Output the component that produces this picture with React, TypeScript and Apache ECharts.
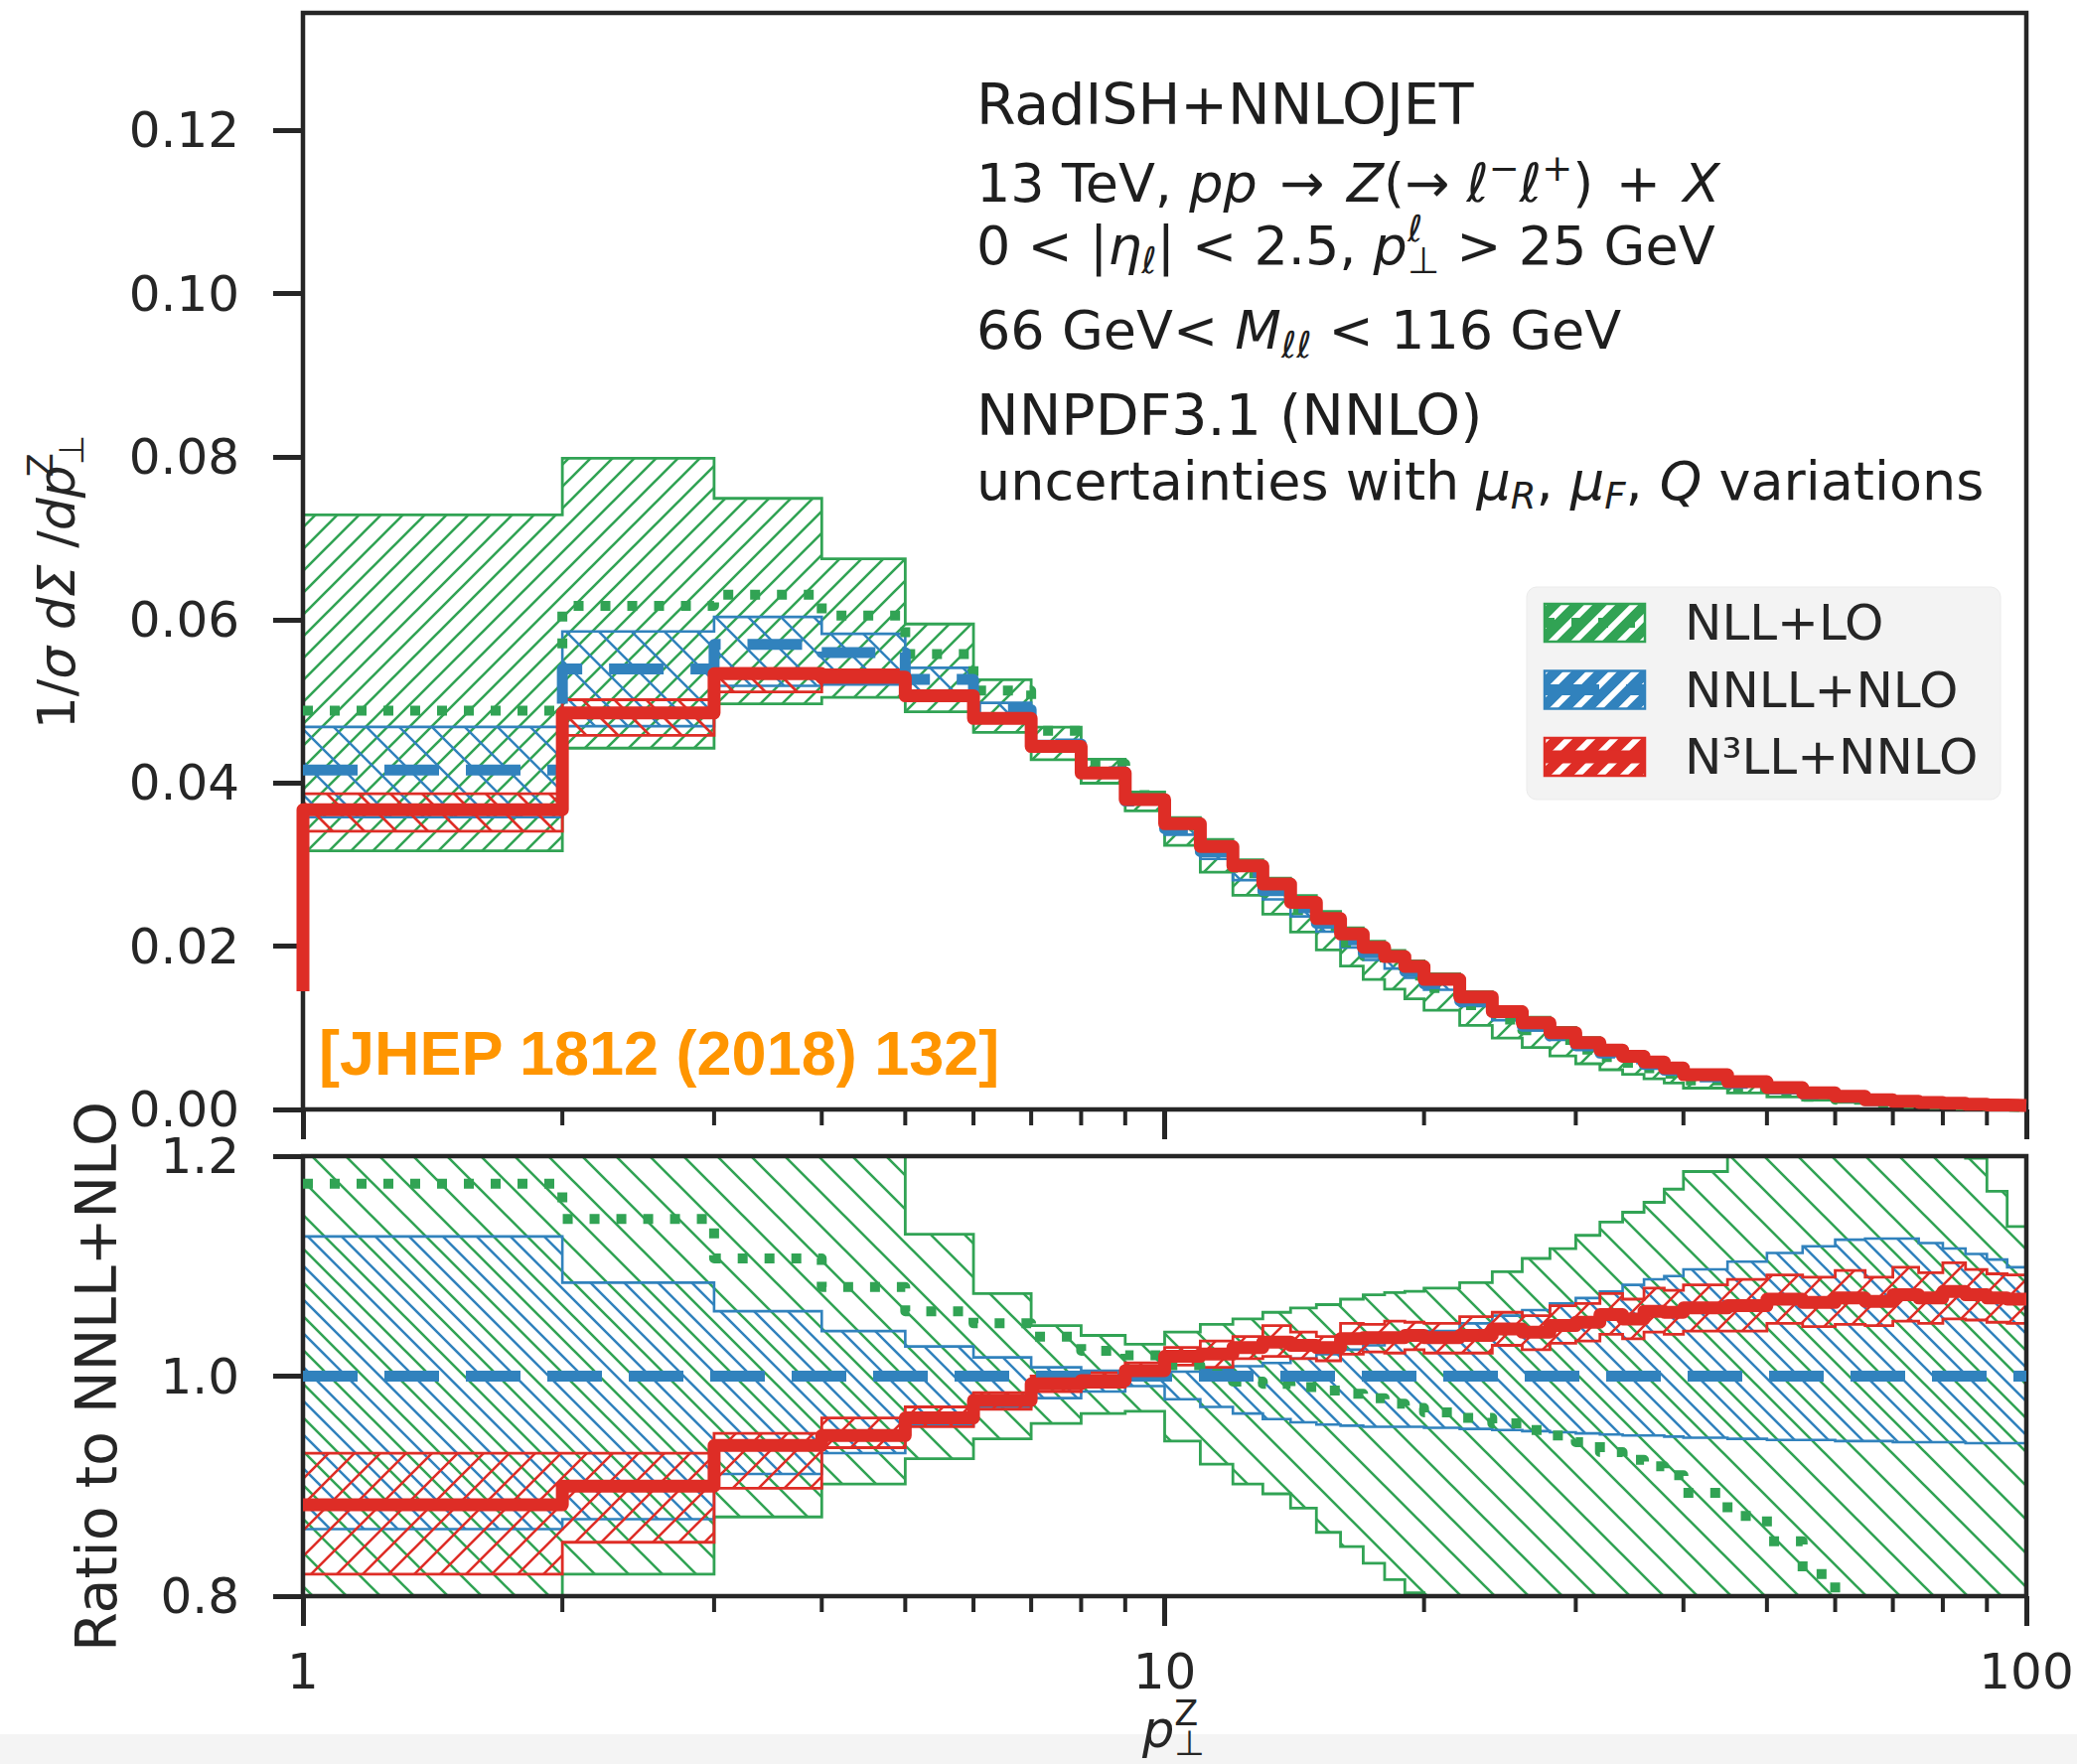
import React, { useEffect, useRef } from 'react';
import * as echarts from 'echarts';

// ---------------- data ----------------
const binEdges = [1, 2, 3, 4, 5, 6, 7, 8, 9, 10, 11, 12, 13, 14, 15, 16, 17, 18, 19, 20, 22, 24, 26, 28, 30, 32, 34, 36, 38, 40, 45, 50, 55, 60, 65, 70, 75, 80, 85, 90, 95, 100];

// NNLL+NLO central prediction (top panel), one value per bin
const nnllCentral = [0.0416, 0.054, 0.057, 0.056, 0.0527, 0.049, 0.0448, 0.0414, 0.0378, 0.0344, 0.0316, 0.0291, 0.0268, 0.0247, 0.0228, 0.0208, 0.0192, 0.0181, 0.0169, 0.0154, 0.0133, 0.0115, 0.0102, 0.009, 0.0078, 0.0069, 0.0062, 0.0055, 0.0048, 0.004, 0.0032, 0.0025, 0.0019, 0.0015, 0.0011, 0.00093, 0.0008, 0.0007, 0.0006, 0.00052, 0.00045];
// N3LL+NNLO value in the bin just below pT = 1 (only its vertical edge is visible)
const n3llBelowFirstBin = 0.0145;

// ratios to NNLL+NLO (bottom panel)
const nllCentralR = [1.175, 1.143, 1.107, 1.081, 1.059, 1.048, 1.036, 1.023, 1.019, 1.01, 1.002, 0.995, 0.993, 0.99, 0.987, 0.984, 0.98, 0.975, 0.971, 0.967, 0.962, 0.957, 0.951, 0.946, 0.94, 0.931, 0.924, 0.918, 0.91, 0.894, 0.873, 0.85, 0.82, 0.79, 0.77, 0.75, 0.73, 0.71, 0.69, 0.67, 0.65];
const nllLoR = [0.762, 0.82, 0.872, 0.902, 0.925, 0.943, 0.957, 0.966, 0.968, 0.941, 0.92, 0.902, 0.893, 0.88, 0.858, 0.845, 0.83, 0.815, 0.803, 0.79, 0.775, 0.76, 0.745, 0.73, 0.718, 0.706, 0.695, 0.685, 0.675, 0.655, 0.635, 0.615, 0.595, 0.578, 0.562, 0.548, 0.535, 0.523, 0.512, 0.502, 0.492];
const nllHiR = [1.752, 1.478, 1.314, 1.205, 1.129, 1.075, 1.046, 1.037, 1.029, 1.04, 1.047, 1.052, 1.058, 1.062, 1.065, 1.07, 1.074, 1.076, 1.077, 1.08, 1.085, 1.095, 1.107, 1.116, 1.128, 1.14, 1.149, 1.158, 1.17, 1.186, 1.21, 1.22, 1.228, 1.232, 1.232, 1.225, 1.215, 1.205, 1.198, 1.168, 1.136];
const nnllLoR = [0.861, 0.87, 0.911, 0.93, 0.955, 0.972, 0.98, 0.986, 0.991, 0.979, 0.972, 0.966, 0.961, 0.958, 0.956, 0.955, 0.954, 0.954, 0.954, 0.953, 0.952, 0.951, 0.95, 0.949, 0.948, 0.947, 0.946, 0.946, 0.945, 0.944, 0.943, 0.942, 0.942, 0.941, 0.941, 0.94, 0.94, 0.94, 0.939, 0.939, 0.939];
const nnllHiR = [1.127, 1.085, 1.059, 1.041, 1.027, 1.017, 1.008, 1.005, 1.003, 1.004, 1.006, 1.009, 1.012, 1.016, 1.02, 1.024, 1.028, 1.032, 1.036, 1.041, 1.048, 1.055, 1.06, 1.066, 1.071, 1.077, 1.083, 1.088, 1.091, 1.097, 1.104, 1.112, 1.118, 1.124, 1.125, 1.125, 1.121, 1.116, 1.111, 1.106, 1.099];
const n3llCentralR = [0.883, 0.9, 0.937, 0.946, 0.962, 0.978, 0.993, 0.996, 1.005, 1.018, 1.02, 1.026, 1.031, 1.028, 1.026, 1.034, 1.035, 1.035, 1.037, 1.035, 1.037, 1.043, 1.04, 1.046, 1.049, 1.056, 1.052, 1.059, 1.058, 1.062, 1.064, 1.07, 1.067, 1.071, 1.068, 1.074, 1.071, 1.077, 1.074, 1.071, 1.07];
const n3llHiR = [0.93, 0.93, 0.948, 0.962, 0.972, 0.985, 1.0, 1.003, 1.012, 1.026, 1.032, 1.036, 1.046, 1.04, 1.036, 1.048, 1.047, 1.05, 1.049, 1.048, 1.054, 1.058, 1.055, 1.064, 1.066, 1.075, 1.07, 1.08, 1.078, 1.083, 1.088, 1.092, 1.09, 1.096, 1.09, 1.099, 1.094, 1.103, 1.097, 1.093, 1.092];
const n3llLoR = [0.82, 0.849, 0.898, 0.935, 0.954, 0.97, 0.986, 0.99, 0.998, 1.01, 1.008, 1.016, 1.018, 1.016, 1.014, 1.02, 1.022, 1.021, 1.024, 1.021, 1.021, 1.028, 1.024, 1.03, 1.032, 1.038, 1.034, 1.04, 1.038, 1.041, 1.041, 1.048, 1.045, 1.047, 1.046, 1.05, 1.048, 1.052, 1.051, 1.049, 1.048];

const xMinorTicks = [2, 3, 4, 5, 6, 7, 8, 9, 20, 30, 40, 50, 60, 70, 80, 90];
const yTicksTop = [0, 0.02, 0.04, 0.06, 0.08, 0.1, 0.12];
const yTicksBottom = [0.8, 1.0, 1.2];
const legendLabels = ['NLL+LO', 'NNLL+NLO', 'N³LL+NNLO'];

// ---------------- style ----------------
const GREEN = '#31a354';
const BLUE = '#3182bd';
const RED = '#de2d26';
const INK = '#262626';
const FF = 'DejaVu Sans';

const TOP = { left: 305, top: 13, width: 1735, height: 1104 };
const BOT = { left: 305, top: 1164, width: 1735, height: 443 };
const TOP_YMAX = 0.1344;

const steps = (vals: number[]) => {
  const pts: number[][] = [];
  vals.forEach((v, i) => {
    pts.push([binEdges[i], v], [binEdges[i + 1], v]);
  });
  return pts;
};
const mul = (a: number[], b: number[]) => a.map((v, i) => v * b[i]);

function makeHatch(color: string, s: number, lw: number, dir: 1 | -1, offset = 0, bg?: string) {
  const c = document.createElement('canvas');
  c.width = s;
  c.height = s;
  const ctx = c.getContext('2d') as CanvasRenderingContext2D;
  if (bg) {
    ctx.fillStyle = bg;
    ctx.fillRect(0, 0, s, s);
  }
  ctx.strokeStyle = color;
  ctx.lineWidth = lw;
  ctx.beginPath();
  for (let k = -2; k <= 2; k++) {
    const cc = k * s + offset;
    if (dir === 1) {
      ctx.moveTo(cc + 4, -4);
      ctx.lineTo(cc - s - 4, s + 4);
    } else {
      ctx.moveTo(cc - 4, -4);
      ctx.lineTo(cc + s + 4, s + 4);
    }
  }
  ctx.stroke();
  return { image: c, repeat: 'repeat', imageWidth: s, imageHeight: s };
}

function bandSeries(lo: number[], hi: number[], idx: number, yMin: number, yMax: number, fill: any, stroke: string, lw: number) {
  const poly = steps(hi).concat(steps(lo).reverse());
  return {
    type: 'custom',
    xAxisIndex: idx,
    yAxisIndex: idx,
    z: 1,
    clip: true,
    silent: true,
    data: [[binEdges[0], yMin]],
    renderItem: (_p: any, api: any) => ({
      type: 'polygon',
      shape: {
        points: poly.map((p) => api.coord([p[0], Math.min(yMax, Math.max(yMin, p[1]))])),
      },
      style: { fill, stroke, lineWidth: lw },
    }),
  };
}

function lineSeries(pts: number[][], idx: number, color: string, width: number, dash: any) {
  return {
    type: 'line',
    xAxisIndex: idx,
    yAxisIndex: idx,
    data: pts,
    symbol: 'none',
    showSymbol: false,
    silent: true,
    z: 3,
    lineStyle: { color, width, type: dash, cap: 'butt', join: 'round' },
  };
}

function minorTickSeries(idx: number, yBase: number) {
  return {
    type: 'custom',
    xAxisIndex: idx,
    yAxisIndex: idx,
    clip: false,
    silent: true,
    z: 2,
    data: xMinorTicks.map((v) => [v, yBase]),
    renderItem: (_p: any, api: any) => {
      const p = api.coord([api.value(0), api.value(1)]);
      return {
        type: 'line',
        shape: { x1: p[0], y1: p[1], x2: p[0], y2: p[1] + 16 },
        style: { stroke: INK, lineWidth: 4 },
      };
    },
  };
}

function richSet(size: number, lh: number, color: string) {
  const small = Math.round(size * 0.68);
  const c = { fontFamily: FF, fill: color, lineHeight: lh };
  const supH = lh - 0.54 * size;
  const subH = lh - 0.56 * size;
  return {
    n: { ...c, fontSize: size },
    i: { ...c, fontSize: size, fontStyle: 'italic' },
    sup: { ...c, fontSize: small, verticalAlign: 'top', height: supH },
    supI: { ...c, fontSize: small, fontStyle: 'italic', verticalAlign: 'top', height: supH },
    sup0: { ...c, fontSize: small, verticalAlign: 'top', height: supH - 4, width: 0 },
    sup0I: { ...c, fontSize: small, fontStyle: 'italic', verticalAlign: 'top', height: supH - 4, width: 0 },
    sub: { ...c, fontSize: small, verticalAlign: 'bottom', height: subH },
    subI: { ...c, fontSize: small, fontStyle: 'italic', verticalAlign: 'bottom', height: subH },
  };
}

const nb = (s: string) => s.replace(/ /g, '\u00a0');

const annotation = [
  { y: 105, size: 57, text: '{n|RadISH+NNLOJET}' },
  { y: 184, size: 54, text: '{n|13 TeV, }{i|pp}{n| \u200a→\u200a }{i|Z}{n|(→ }{i|ℓ}{sup|−}{i|ℓ}{sup|+}{n|) \u200a+\u200a }{i|X}' },
  { y: 247, size: 54, text: '{n|0 < |}{i|η}{subI|ℓ}{n|| < 2.5, }{i|p}{sup0I|ℓ}{sub|⊥}{n| > 25 GeV}' },
  { y: 332, size: 54, text: '{n|66 GeV< }{i|M}{subI|ℓℓ}{n| < 116 GeV}' },
  { y: 418, size: 57, text: '{n|NNPDF3.1 (NNLO)}' },
  { y: 484, size: 54, text: '{n|uncertainties with }{i|μ}{subI|R}{n|, }{i|μ}{subI|F}{n|, }{i|Q}{n| variations}' },
];

function buildOption() {
  // top-panel curves: NNLL+NLO normalisation times the ratios
  const nllTop = mul(nnllCentral, nllCentralR);
  const nllTopLo = mul(nnllCentral, nllLoR);
  const nllTopHi = mul(nnllCentral, nllHiR);
  const nnllTopLo = mul(nnllCentral, nnllLoR);
  const nnllTopHi = mul(nnllCentral, nnllHiR);
  const n3llTop = mul(nnllCentral, n3llCentralR);
  const n3llTopLo = mul(nnllCentral, n3llLoR);
  const n3llTopHi = mul(nnllCentral, n3llHiR);
  const nnllCentralR = nnllCentral.map((v) => v / v);

  const pGreenTop = makeHatch(GREEN, 22, 2.6, 1);
  const pBlueTop = makeHatch(BLUE, 33, 2.5, -1);
  const pRedTop = makeHatch(RED, 32, 2.7, -1, 10);
  const pGreenBot = makeHatch(GREEN, 34, 2.6, -1);
  const pBlueBot = makeHatch(BLUE, 34, 2.6, -1, 17);
  const pRedBot = makeHatch(RED, 26, 2.6, 1);
  const colors = [GREEN, BLUE, RED];
  const handlePatterns = colors.map((c) => makeHatch('#ffffff', 23, 6, 1, 0, c));
  const lineStyles: any[] = [
    { w: 10, dash: [10, 17] },
    { w: 11, dash: [55, 27] },
    { w: 13, dash: null },
  ];

  const axisFont = { fontFamily: FF, fontSize: 50, color: INK };

  const xAxisBase = {
    type: 'log',
    logBase: 10,
    min: 1,
    max: 100,
    axisLine: { show: false },
    splitLine: { show: false },
    minorTick: { show: false },
    minorSplitLine: { show: false },
    axisTick: { show: true, inside: false, length: 30, lineStyle: { color: INK, width: 5 } },
  };

  const legendEls: any[] = [
    {
      type: 'rect',
      z: 5,
      shape: { x: 1537, y: 591, width: 477, height: 214, r: 10 },
      style: { fill: '#f3f3f3', stroke: '#ebebeb', lineWidth: 1 },
    },
  ];
  colors.forEach((c, k) => {
    const yc = 627 + k * 67.5;
    legendEls.push({
      type: 'rect',
      z: 6,
      shape: { x: 1555, y: yc - 19, width: 101, height: 38 },
      style: { fill: handlePatterns[k], stroke: c, lineWidth: 2.5 },
    });
    legendEls.push({
      type: 'line',
      z: 7,
      shape: { x1: 1555, y1: yc, x2: 1656, y2: yc },
      style: { stroke: c, lineWidth: lineStyles[k].w, lineDash: lineStyles[k].dash || undefined },
    });
    legendEls.push({
      type: 'text',
      z: 7,
      x: 1696,
      y: yc,
      style: { text: legendLabels[k], fontFamily: FF, fontSize: 50, fill: INK, align: 'left', verticalAlign: 'middle' },
    });
  });

  const annEls = annotation.map((a) => ({
    type: 'text',
    z: 10,
    x: 983,
    y: a.y,
    style: {
      text: nb(a.text),
      rich: richSet(a.size, 76, '#1e1e1e'),
      align: 'left',
      verticalAlign: 'middle',
      fontFamily: FF,
      fontSize: a.size,
    },
  }));

  const frameEls = [TOP, BOT].map((g) => ({
    type: 'rect',
    z: 2,
    shape: { x: g.left, y: g.top, width: g.width, height: g.height },
    style: { fill: 'none', stroke: INK, lineWidth: 4.5 },
  }));

  const labelRich = richSet(52, 72, INK);
  const xRich = richSet(51, 70, INK);

  const graphicEls: any[] = [
    { type: 'rect', z: 0, shape: { x: 0, y: 1746, width: 2091, height: 30 }, style: { fill: '#f4f4f4' } },
    ...frameEls,
    ...legendEls,
    ...annEls,
    {
      type: 'text',
      z: 10,
      x: 57,
      y: 586,
      rotation: Math.PI / 2,
      style: {
        text: nb('{n|1/}{i|σ}{n| }{i|dΣ}{n| /}{i|dp}{sup0|Z}{sub|⊥}'),
        rich: labelRich,
        align: 'center',
        verticalAlign: 'middle',
        fontFamily: FF,
        fontSize: 52,
      },
    },
    {
      type: 'text',
      z: 10,
      x: 97,
      y: 1386,
      rotation: Math.PI / 2,
      style: { text: 'Ratio to NNLL+NLO', fontFamily: FF, fontSize: 57, fill: INK, align: 'center', verticalAlign: 'middle' },
    },
    {
      type: 'text',
      z: 10,
      x: 1150,
      y: 1741,
      style: { text: '{i|p}{sup0|Z}{sub|⊥}', rich: xRich, align: 'left', verticalAlign: 'middle', fontFamily: FF, fontSize: 51 },
    },
    {
      type: 'text',
      z: 10,
      x: 321,
      y: 1060,
      style: {
        text: '[JHEP 1812 (2018) 132]',
        fontFamily: 'Liberation Sans',
        fontWeight: 'bold',
        fontSize: 63,
        fill: '#ff9500',
        align: 'left',
        verticalAlign: 'middle',
      },
    },
  ];

  return {
    animation: false,
    backgroundColor: '#ffffff',
    grid: [
      { ...TOP, show: false },
      { ...BOT, show: false },
    ],
    xAxis: [
      { ...xAxisBase, gridIndex: 0, axisLabel: { show: false } },
      {
        ...xAxisBase,
        gridIndex: 1,
        axisLabel: {
          show: true,
          margin: 54,
          lineHeight: 44,
          showMinLabel: true,
          showMaxLabel: true,
          ...axisFont,
          formatter: (v: number) => String(Math.round(v)),
        },
      },
    ],
    yAxis: [
      {
        type: 'value',
        gridIndex: 0,
        min: 0,
        max: TOP_YMAX,
        interval: 0.02,
        axisLine: { show: false },
        splitLine: { show: false },
        axisTick: { show: true, length: 30, customValues: yTicksTop, lineStyle: { color: INK, width: 5 } },
        axisLabel: { show: true, customValues: yTicksTop, margin: 64, lineHeight: 42, ...axisFont, formatter: (v: number) => v.toFixed(2) },
      },
      {
        type: 'value',
        gridIndex: 1,
        min: 0.8,
        max: 1.2,
        interval: 0.2,
        axisLine: { show: false },
        splitLine: { show: false },
        axisTick: { show: true, length: 30, customValues: yTicksBottom, lineStyle: { color: INK, width: 5 } },
        axisLabel: { show: true, customValues: yTicksBottom, margin: 64, lineHeight: 42, ...axisFont, formatter: (v: number) => v.toFixed(1) },
      },
    ],
    series: [
      // top panel bands
      bandSeries(nllTopLo, nllTopHi, 0, 0, TOP_YMAX, pGreenTop, GREEN, 2.8),
      bandSeries(nnllTopLo, nnllTopHi, 0, 0, TOP_YMAX, pBlueTop, BLUE, 2.6),
      bandSeries(n3llTopLo, n3llTopHi, 0, 0, TOP_YMAX, pRedTop, RED, 2.8),
      // bottom panel bands
      bandSeries(nllLoR, nllHiR, 1, 0.8, 1.2, pGreenBot, GREEN, 2.8),
      bandSeries(nnllLoR, nnllHiR, 1, 0.8, 1.2, pBlueBot, BLUE, 2.6),
      bandSeries(n3llLoR, n3llHiR, 1, 0.8, 1.2, pRedBot, RED, 2.8),
      // top panel lines
      lineSeries(steps(nllTop), 0, GREEN, 10, [10, 17]),
      lineSeries(steps(nnllCentral), 0, BLUE, 11, [55, 27]),
      lineSeries([[binEdges[0], n3llBelowFirstBin], ...steps(n3llTop)], 0, RED, 13, 'solid'),
      // bottom panel lines
      lineSeries(steps(nllCentralR), 1, GREEN, 10, [10, 17]),
      lineSeries(steps(nnllCentralR), 1, BLUE, 11, [55, 27]),
      lineSeries(steps(n3llCentralR), 1, RED, 13, 'solid'),
      // minor ticks on the log axes
      minorTickSeries(0, 0),
      minorTickSeries(1, 0.8),
    ],
    graphic: { elements: graphicEls },
  };
}

export default function App() {
  const ref = useRef<HTMLDivElement>(null);
  useEffect(() => {
    if (!ref.current) return;
    const chart = echarts.init(ref.current, null, { renderer: 'svg' });
    chart.setOption(buildOption() as any);
    return () => chart.dispose();
  }, []);
  return <div ref={ref} style={{ position: 'absolute', left: 0, top: 0, width: 2091, height: 1776 }} />;
}
